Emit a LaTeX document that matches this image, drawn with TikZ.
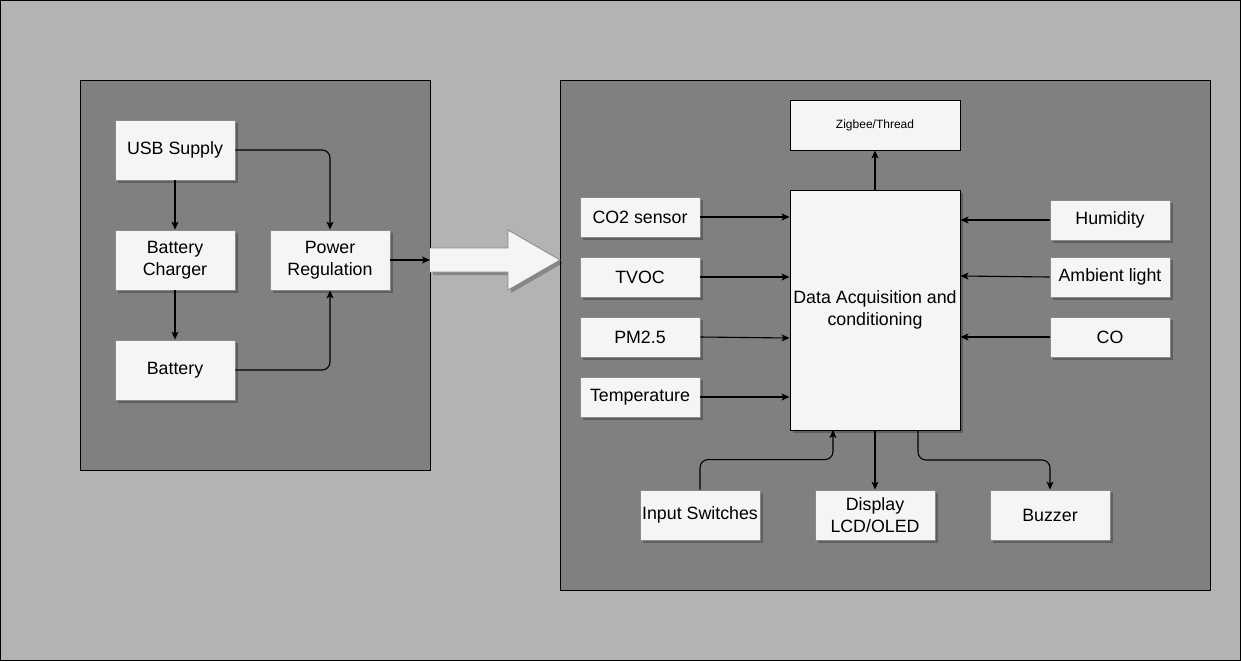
\documentclass[tikz,border=0pt]{standalone}
\usepackage{fontspec}
\setmainfont{Liberation Sans}
\usetikzlibrary{arrows.meta,shadows,calc}
\definecolor{bgc}{HTML}{B3B3B3}
\definecolor{panelc}{HTML}{808080}
\definecolor{boxc}{HTML}{F5F5F5}
\definecolor{boxline}{HTML}{8A8A8A}
\tikzset{
  shd/.style={drop shadow={shadow xshift=3pt,shadow yshift=-3pt,fill=black,opacity=0.25}},
  blk/.style={draw=boxline, line width=0.8pt, fill=boxc, shd, minimum width=120pt, minimum height=60pt,
    inner sep=0pt, align=center, font=\fontsize{17.8}{21.5}\selectfont},
  sens/.style={blk, minimum height=40pt},
  bot/.style={blk, minimum height=50pt},
  panel/.style={draw=black, line width=1pt, fill=panelc},
  arr/.style={draw=black, line width=1.1pt, -{Stealth[length=8pt,width=7pt,inset=2pt]}, rounded corners=8pt},
}
\begin{document}
\begin{tikzpicture}[x=1pt,y=-1pt]
\useasboundingbox (0,0) rectangle (1241,661);
\draw[fill=bgc, line width=1.2pt] (0.6,0.6) rectangle (1240.4,660.4);
% panels
\draw[panel] (80,80) rectangle (430,470);
\draw[panel] (560,80) rectangle (1210,590);
% big arrow
\coordinate (lpE) at (430,260);
\fill[black,opacity=0.25] (433,251) -- (511,251) -- (511,233) -- (563,263) -- (511,293) -- (511,275) -- (433,275) -- cycle;
\draw[fill=boxc, draw=boxline, line width=0.8pt] (430,272) -- (508,272) -- (508,290) -- (560,260) -- (508,230) -- (508,248) -- (430,248);
\fill[boxc] (429.5,248.5) rectangle (431,271.5);
% left panel nodes
\node[blk] (usb) at (175,150) {USB Supply};
\node[blk] (chg) at (175,260) {Battery\\Charger};
\node[blk] (pwr) at (330,260) {Power\\Regulation};
\node[blk] (bat) at (175,370) {Battery};
% right panel nodes
\node[draw=black, line width=1pt, fill=boxc, minimum width=170pt, minimum height=50pt, inner sep=0pt, font=\fontsize{12}{14}\selectfont] (zig) at (875,125) {Zigbee/Thread};
\node[blk, draw=black, line width=1pt, minimum width=170pt, minimum height=240pt] (data) at (875,310) {Data Acquisition and\\conditioning};
\node[sens] (co2) at (640,217) {CO2 sensor};
\node[sens] (tvoc) at (640,277) {TVOC};
\node[sens] (pm) at (640,337) {PM2.5};
\node[sens] (temp) at (640,397) {Temperature};
\node[sens] (hum) at (1110,220) {Humidity};
\node[sens] (amb) at (1110,277) {Ambient light};
\node[sens] (co) at (1110,337) {CO};
\node[bot] (sw) at (700,515) {Input Switches};
\node[bot] (disp) at (875,515) {Display\\LCD/OLED};
\node[bot] (buz) at (1050,515) {Buzzer};
\coordinate (dS1) at (833,430);
\coordinate (dS2) at (918,430);
% connectors left
\draw[arr] (usb.east) -| (pwr.north);
\draw[arr] (usb.south) -- (chg.north);
\draw[arr] (chg.south) -- (bat.north);
\draw[arr] (bat.east) -| (pwr.south);
\draw[arr] (pwr.east) -- (lpE);
% connectors right
\draw[arr] (data.north) -- (zig.south);
\draw[arr] (co2.east) -- (co2.east -| data.west);
\draw[arr] (tvoc.east) -- (tvoc.east -| data.west);
\draw[arr] (pm.east) -- ($(pm.east -| data.west)+(0,1)$);
\draw[arr] (temp.east) -- (temp.east -| data.west);
\draw[arr] (hum.west) -- (hum.west -| data.east);
\draw[arr] (amb.west) -- ($(amb.west -| data.east)+(0,-1)$);
\draw[arr] (co.west) -- (co.west -| data.east);
\draw[arr] (sw.north) -- ($(sw.north)+(0,-30)$) -| (dS1);
\draw[arr] (data.south -| disp.north) -- (disp.north);
\draw[arr] (dS2) -- ($(dS2)+(0,30)$) -| (buz.north);
\end{tikzpicture}
\end{document}
